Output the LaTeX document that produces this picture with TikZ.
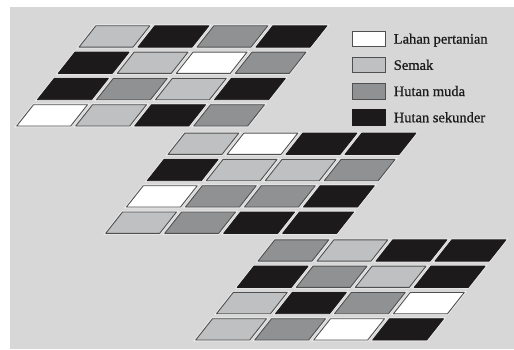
\documentclass[tikz,border=0pt]{standalone}
\usepackage{fontspec}
\setmainfont{Liberation Serif}
\newfontfamily\legendfont[FakeBold=0.6]{Liberation Serif}
\usepackage{xcolor}
\usepackage{tikz}
\usetikzlibrary{positioning}
\definecolor{bggray}{HTML}{D7D7D7}
\definecolor{halo}{HTML}{EBEBEB}
\definecolor{edge}{HTML}{505050}
\definecolor{semakgray}{HTML}{BEC0C2}
\definecolor{mudagray}{HTML}{909193}
\definecolor{sekunderblack}{HTML}{1C1A1A}

\begin{document}
\begin{tikzpicture}[
  x=1pt,y=1pt,
  cell/.style={draw=edge,line width=.9pt,line join=round,
    preaction={draw=halo,line width=2.6pt}},
  lahan/.style={cell,fill=white},
  semak/.style={cell,fill=semakgray},
  muda/.style={cell,fill=mudagray},
  sekunder/.style={cell,fill=sekunderblack,draw=sekunderblack},
  legbox/.style={draw=edge,line width=.9pt,minimum width=33.5pt,minimum height=15.5pt,
    inner sep=0pt},
  leglabel/.style={font=\legendfont\fontsize{14.5}{16}\selectfont,text=sekunderblack,
    inner sep=0pt,text height=9.5pt,text depth=0pt}
]
\useasboundingbox (0,0) rectangle (514,349);
\fill[bggray] (10,0) rectangle (514,342);

\begin{scope}[shift={(16.7,223)},y={(0.79pt,1pt)}]
\foreach \row/\kinds in {0/{lahan,semak,sekunder,muda},1/{sekunder,muda,semak,sekunder},
    2/{sekunder,semak,lahan,muda},3/{semak,sekunder,muda,sekunder}}
  \foreach \kind [count=\col from 0] in \kinds
    \path[\kind] (\col*59,\row*26.3) -- ++(54,0) -- ++(0,21.3) -- ++(-54,0) -- cycle;
\end{scope}

\begin{scope}[shift={(105.7,115.7)},y={(0.79pt,1pt)}]
\foreach \row/\kinds in {0/{semak,muda,sekunder,sekunder},1/{lahan,muda,muda,sekunder},
    2/{sekunder,semak,semak,muda},3/{semak,lahan,sekunder,sekunder}}
  \foreach \kind [count=\col from 0] in \kinds
    \path[\kind] (\col*59,\row*26.3) -- ++(54,0) -- ++(0,21.3) -- ++(-54,0) -- cycle;
\end{scope}

\begin{scope}[shift={(195.7,9)},y={(0.79pt,1pt)}]
\foreach \row/\kinds in {0/{semak,muda,lahan,sekunder},1/{semak,sekunder,muda,lahan},
    2/{sekunder,muda,semak,sekunder},3/{muda,semak,sekunder,sekunder}}
  \foreach \kind [count=\col from 0] in \kinds
    \path[\kind] (\col*59,\row*26.3) -- ++(54,0) -- ++(0,21.3) -- ++(-54,0) -- cycle;
\end{scope}

\node[legbox,fill=white] (lahan) at (368.9,310.1) {};
\node[legbox,fill=semakgray,below=9.8pt of lahan] (semak) {};
\node[legbox,fill=mudagray,below=9.8pt of semak] (muda) {};
\node[legbox,fill=sekunderblack,draw=sekunderblack,below=9.8pt of muda] (sekunder) {};
\node[leglabel,right=7.5pt of lahan] (lahanlbl) {Lahan pertanian};
\node[leglabel,right=7.5pt of semak] (semaklbl) {Semak};
\node[leglabel,right=7.5pt of muda] (mudalbl) {Hutan muda};
\node[leglabel,right=7.5pt of sekunder] (sekunderlbl) {Hutan sekunder};
\end{tikzpicture}
\end{document}
